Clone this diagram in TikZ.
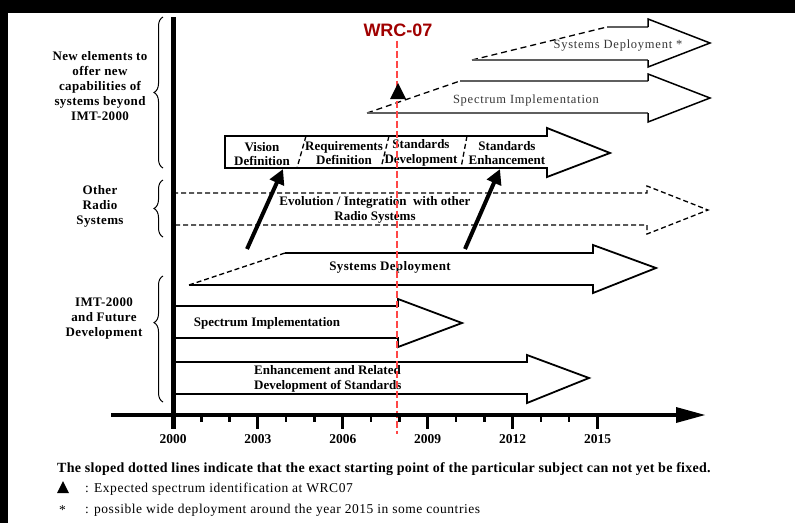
\documentclass[tikz,border=0pt]{standalone}
\usepackage{fontspec}
\setmainfont{Liberation Serif}
\newfontfamily\wrcfont{Liberation Sans}
\usetikzlibrary{arrows.meta,decorations.pathreplacing}
\definecolor{wrcred}{RGB}{160,0,0}
\definecolor{wrcline}{RGB}{255,70,70}
\definecolor{shaftgray}{RGB}{95,95,95}
\definecolor{graytext}{RGB}{55,55,55}
\begin{document}
\begin{tikzpicture}[x=1pt,y=-1pt,
  lab/.style={font=\fontsize{13}{14.5}\selectfont\bfseries, align=center, inner sep=0pt},
  side/.style={font=\fontsize{13}{15}\selectfont\bfseries\addfontfeature{LetterSpace=3}, align=center, inner sep=0pt},
  glab/.style={font=\fontsize{12.5}{15}\selectfont\addfontfeature{LetterSpace=6}, text=graytext, inner sep=0pt},
  yrlab/.style={font=\fontsize{13.5}{14}\selectfont\bfseries, inner sep=0pt},
  note/.style={font=\fontsize{13.5}{15}\selectfont\addfontfeature{LetterSpace=4}, anchor=west, inner sep=0pt},
  outline/.style={draw=black, line width=1.8pt, line join=miter},
  dashln/.style={dash pattern=on 5pt off 3pt, line width=1.3pt},
  bigarrow/.style={line width=4pt, -{Triangle[length=15pt,width=15pt]}},
  curly/.style={decorate, decoration={brace, amplitude=9pt}, line width=1pt},
]
% page frame
\useasboundingbox (0,0) rectangle (795,523);
\fill[white] (0,0) rectangle (795,523);
\fill[black] (0,0) rectangle (795,13);
\fill[black] (0,0) rectangle (8,523);

% --- beyond IMT-2000: systems deployment ---
\draw[black, line width=1.3pt, dash pattern=on 6pt off 4pt] (472,60) -- (607,27);
\draw[shaftgray, line width=1.3pt] (607,27) -- (648,27);
\draw[shaftgray, line width=1.3pt] (472,60) -- (648,60);
\draw[outline, line width=1.5pt] (648,27) -- (648,19) -- (710,43) -- (648,67) -- (648,60);
\node[glab] (sdep2) at (618,46) {Systems Deployment *};

% --- beyond IMT-2000: spectrum implementation ---
\draw[black, line width=1.3pt, dash pattern=on 6pt off 4pt] (367,113) -- (460,81);
\draw[shaftgray, line width=1.3pt] (460,81) -- (648,81);
\draw[shaftgray, line width=1.3pt] (367,113) -- (648,113);
\draw[outline, line width=1.5pt] (648,81) -- (648,74) -- (710,98) -- (648,122) -- (648,113);
\node[glab] (spec2) at (526,100) {Spectrum Implementation};

% --- vision / requirements / standards phases ---
\draw[outline, fill=white] (225,136) -- (547,136) -- (547,128) -- (610,153) -- (547,177) -- (547,168) -- (225,168) -- cycle;
\draw[dashln] (306,136) -- (297,168);
\draw[dashln] (389,136) -- (381,168);
\draw[dashln] (467,136) -- (461,168);
\node[lab] (vis) at (262,154) {Vision\\Definition};
\node[lab] (req) at (344,153) {Requirements\\Definition};
\node[lab] (sdev) at (421,153) {Standards\\Development};
\node[lab] (senh) at (507,153) {Standards\\Enhancement};

% --- other radio systems ---
\draw[dashln] (173,193) -- (647,193) -- (647,186) -- (708,210) -- (647,234) -- (647,225) -- (173,225);
\node[lab] (evo) at (375,210) {Evolution / Integration\ \ with other\\Radio Systems};

% --- IMT-2000: systems deployment ---
\draw[dashln] (189,285) -- (285,253);
\draw[outline] (285,253) -- (593,253) -- (593,245) -- (656,268) -- (593,293) -- (593,285) -- (189,285);
\node[lab, font=\fontsize{13}{14.5}\selectfont\bfseries\addfontfeature{LetterSpace=3}] (sdep) at (390,267) {Systems Deployment};

% --- IMT-2000: spectrum implementation ---
\draw[outline] (173,306) -- (398,306) -- (398,299) -- (462,323) -- (398,347) -- (398,338) -- (173,338);
\node[lab] (spec) at (267,323) {Spectrum Implementation};

% --- IMT-2000: enhancement of standards ---
\draw[outline] (173,362) -- (527,362) -- (527,355) -- (589,378) -- (527,403) -- (527,394) -- (173,394);
\node[lab, align=left, anchor=west] (enh) at (254,379) {Enhancement and Related\\Development of Standards};

% --- transitions into the new phases ---
\coordinate (visin) at (283,169);
\coordinate (visfrom) at (247,249);
\coordinate (enhin) at (500,169);
\coordinate (enhfrom) at (465,249);
\draw[bigarrow] (visfrom) -- (visin);
\draw[bigarrow] (enhfrom) -- (enhin);

% --- WRC-07 marker ---
\node[font=\wrcfont\bfseries\fontsize{18}{20}\selectfont, text=wrcred, inner sep=0pt] (wrc) at (398,30) {WRC-07};
\coordinate (wrcbot) at (397,434);
\draw[wrcline, line width=1.2pt, dash pattern=on 7pt off 3pt] (wrc.south -| wrcbot) ++(0,4) -- (wrcbot);
\fill[black] (398,83) -- (406,99) -- (390,99) -- cycle;

% --- axes ---
\draw[line width=5pt] (173,17) -- (173,429);
\draw[line width=4pt] (111,415) -- (680,415);
\fill[black] (676,407) -- (705,415) -- (676,423) -- cycle;
\foreach \yr in {0,3,...,15} {
  \draw[line width=3pt] ({173+28.3*\yr},415) -- ({173+28.3*\yr},429);
  \node[yrlab] (y\yr) at ({173+28.3*\yr},439) {\number\numexpr2000+\yr\relax};
}
\foreach \yr in {1,2,4,5,7,8,10,11,13,14}
  \draw[line width=2.5pt] ({173+28.3*\yr},415) -- ({173+28.3*\yr},422);

% --- row groups ---
\draw[curly] (163,168) -- (163,17);
\draw[curly] (163,237) -- (163,180);
\draw[curly, decoration={brace, amplitude=9pt, aspect=0.63}] (163,402) -- (163,276);
\node[side] (gnew) at (100,86) {New elements to\\offer new\\capabilities of\\systems beyond\\IMT-2000};
\node[side] (gother) at (100,206) {Other\\Radio\\Systems};
\node[side] (gimt) at (104,319) {IMT-2000\\and Future\\Development};

% --- notes ---
\node[note, font=\fontsize{14}{15}\selectfont\bfseries\addfontfeature{LetterSpace=2}] (n1) at (57,469) {The sloped dotted lines indicate that the exact starting point of the particular subject can not yet be fixed.};
\fill[black] (63,481) -- (69,493) -- (57,493) -- cycle;
\node[note] (n2) at (85,489) {: Expected spectrum identification at WRC07};
\node[note] (star) at (59,510) {*};
\node[note] (n3) at (85,510) {: possible wide deployment around the year 2015 in some countries};
\end{tikzpicture}
\end{document}
